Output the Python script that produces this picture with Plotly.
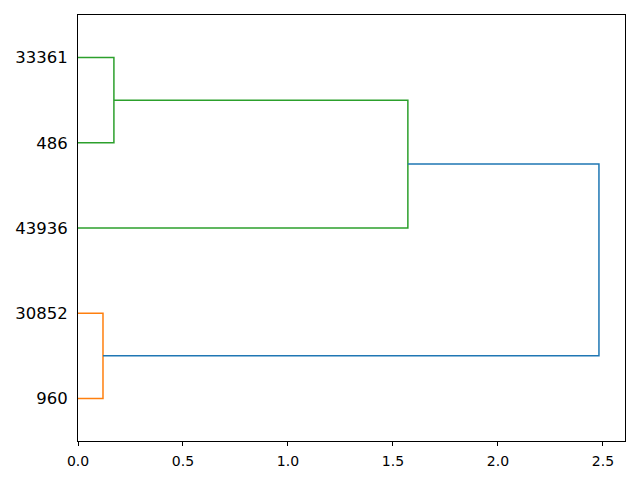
import plotly.graph_objects as go

# Data
leaf_labels = ["960", "30852", "43936", "486", "33361"]
leaf_pos = [5, 15, 25, 35, 45]
merge_dist = [0.119, 0.171, 1.571, 2.481]
merge_colors = ["#ff7f0e", "#2ca02c", "#2ca02c", "#1f77b4"]
x_ticks = [0, 0.5, 1.0, 1.5, 2.0, 2.5]
x_tick_labels = ["0.0", "0.5", "1.0", "1.5", "2.0", "2.5"]

# cluster 1: 960 + 30852 ; cluster 2: 486 + 33361 ; cluster 3: c2 + 43936 ; root: c3 + c1
c1_pos = (leaf_pos[0] + leaf_pos[1]) / 2
c2_pos = (leaf_pos[3] + leaf_pos[4]) / 2
c3_pos = (leaf_pos[2] + c2_pos) / 2
links = [
    (leaf_pos[0], 0, leaf_pos[1], 0, merge_dist[0]),
    (leaf_pos[3], 0, leaf_pos[4], 0, merge_dist[1]),
    (c2_pos, merge_dist[1], leaf_pos[2], 0, merge_dist[2]),
    (c3_pos, merge_dist[2], c1_pos, merge_dist[0], merge_dist[3]),
]

fig = go.Figure()
for (p1, h1, p2, h2, d), col in zip(links, merge_colors):
    fig.add_trace(go.Scatter(
        x=[h1, d, d, h2], y=[p1, p1, p2, p2], mode="lines",
        line=dict(color=col, width=1.5), showlegend=False, hoverinfo="skip"))

fig.update_layout(
    width=640, height=480,
    margin=dict(l=78, r=15, t=15, b=39),
    plot_bgcolor="white", paper_bgcolor="white",
    font=dict(family="DejaVu Sans", color="black"),
)
fig.update_xaxes(range=[0, merge_dist[3] * 1.05], tickvals=x_ticks, ticktext=x_tick_labels,
                 showgrid=False, zeroline=False, showline=True, linecolor="black", linewidth=1,
                 mirror=True, ticks="outside", ticklen=4, tickcolor="black",
                 ticklabelstandoff=3, tickfont=dict(size=14))
fig.update_yaxes(range=[0, 50], tickvals=leaf_pos, ticktext=leaf_labels,
                 showgrid=False, zeroline=False, showline=True, linecolor="black", linewidth=1,
                 mirror=True, ticks="", ticklabelstandoff=6, tickfont=dict(size=16.5))
fig.write_html("out.html", config={"displayModeBar": False},
               post_script="document.body.style.margin='0';")
